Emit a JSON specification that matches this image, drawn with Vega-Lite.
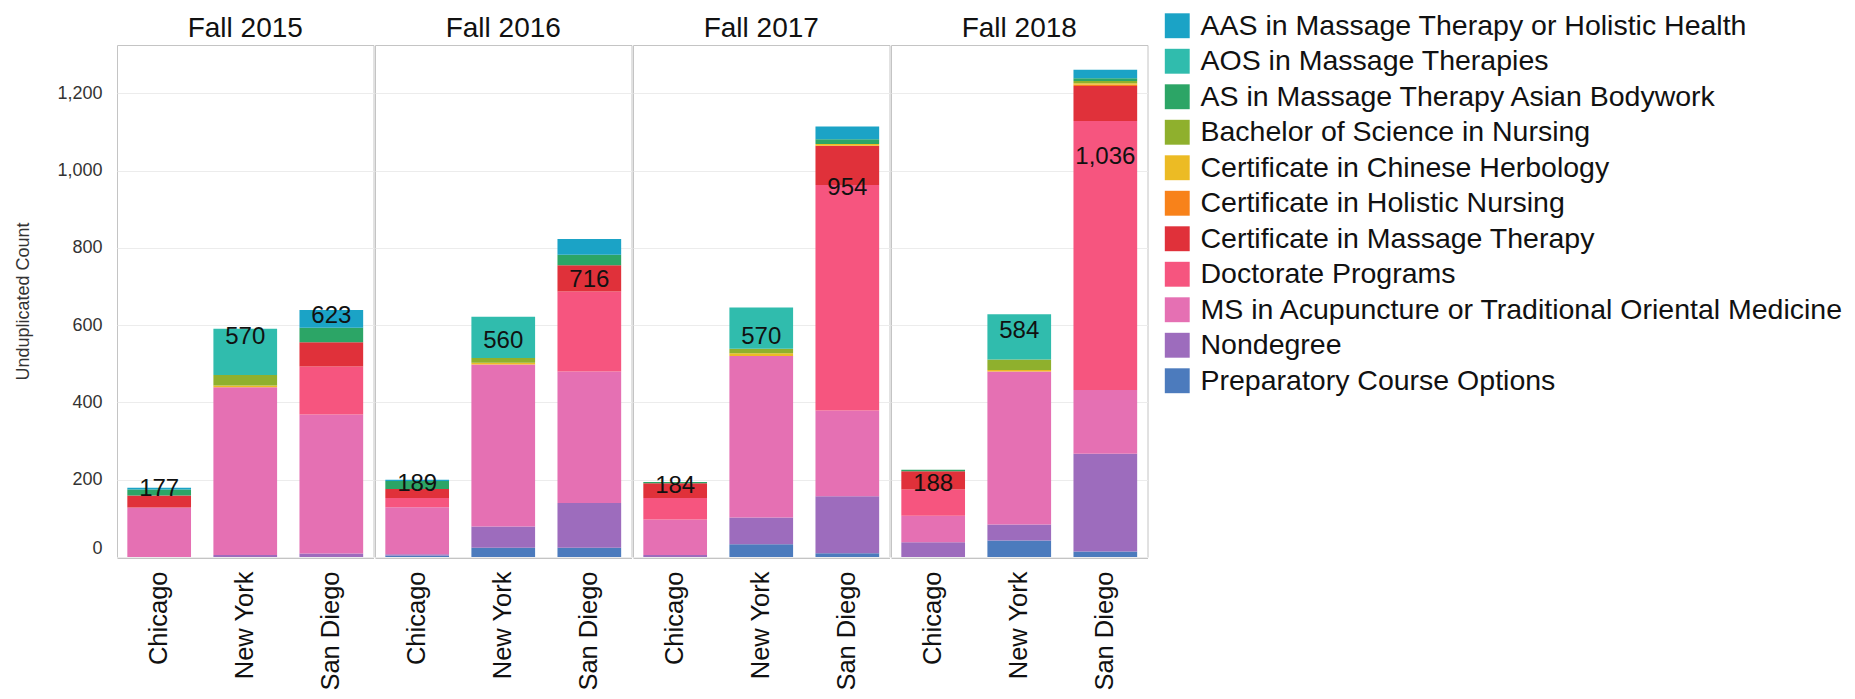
{
  "$schema": "https://vega.github.io/schema/vega-lite/v6.json",
  "padding": {"left": 14, "top": 11, "right": 5, "bottom": 4},
  "background": "white",
  "config": {
    "font": "Liberation Sans",
    "view": {"stroke": "#c4c4c4", "strokeWidth": 1},
    "legend": {
      "title": null,
      "orient": "none",
      "legendX": 1046,
      "legendY": -33.5,
      "labelFontSize": 28.5,
      "labelLimit": 900,
      "labelColor": "#111",
      "labelOffset": 9,
      "symbolType": "square",
      "symbolSize": 620,
      "symbolStrokeWidth": 0,
      "symbolOpacity": 1,
      "rowPadding": 6.5
    }
  },
  "data": {"values": [
    {"year": "Fall 2015", "campus": "Chicago", "program": "MS in Acupuncture or Traditional Oriental Medicine", "count": 128},
    {"year": "Fall 2015", "campus": "Chicago", "program": "Certificate in Massage Therapy", "count": 31},
    {"year": "Fall 2015", "campus": "Chicago", "program": "AS in Massage Therapy Asian Bodywork", "count": 16},
    {"year": "Fall 2015", "campus": "Chicago", "program": "AAS in Massage Therapy or Holistic Health", "count": 4},
    {"year": "Fall 2015", "campus": "New York", "program": "Nondegree", "count": 5},
    {"year": "Fall 2015", "campus": "New York", "program": "MS in Acupuncture or Traditional Oriental Medicine", "count": 434},
    {"year": "Fall 2015", "campus": "New York", "program": "Certificate in Chinese Herbology", "count": 5},
    {"year": "Fall 2015", "campus": "New York", "program": "Bachelor of Science in Nursing", "count": 27},
    {"year": "Fall 2015", "campus": "New York", "program": "AOS in Massage Therapies", "count": 120},
    {"year": "Fall 2015", "campus": "San Diego", "program": "Nondegree", "count": 9},
    {"year": "Fall 2015", "campus": "San Diego", "program": "MS in Acupuncture or Traditional Oriental Medicine", "count": 360},
    {"year": "Fall 2015", "campus": "San Diego", "program": "Doctorate Programs", "count": 124},
    {"year": "Fall 2015", "campus": "San Diego", "program": "Certificate in Massage Therapy", "count": 63},
    {"year": "Fall 2015", "campus": "San Diego", "program": "AS in Massage Therapy Asian Bodywork", "count": 37},
    {"year": "Fall 2015", "campus": "San Diego", "program": "AAS in Massage Therapy or Holistic Health", "count": 46},
    {"year": "Fall 2016", "campus": "Chicago", "program": "Preparatory Course Options", "count": 4},
    {"year": "Fall 2016", "campus": "Chicago", "program": "Nondegree", "count": 3},
    {"year": "Fall 2016", "campus": "Chicago", "program": "MS in Acupuncture or Traditional Oriental Medicine", "count": 122},
    {"year": "Fall 2016", "campus": "Chicago", "program": "Doctorate Programs", "count": 24},
    {"year": "Fall 2016", "campus": "Chicago", "program": "Certificate in Massage Therapy", "count": 23},
    {"year": "Fall 2016", "campus": "Chicago", "program": "AS in Massage Therapy Asian Bodywork", "count": 21},
    {"year": "Fall 2016", "campus": "Chicago", "program": "AAS in Massage Therapy or Holistic Health", "count": 3},
    {"year": "Fall 2016", "campus": "New York", "program": "Preparatory Course Options", "count": 24},
    {"year": "Fall 2016", "campus": "New York", "program": "Nondegree", "count": 55},
    {"year": "Fall 2016", "campus": "New York", "program": "MS in Acupuncture or Traditional Oriental Medicine", "count": 419},
    {"year": "Fall 2016", "campus": "New York", "program": "Certificate in Chinese Herbology", "count": 5},
    {"year": "Fall 2016", "campus": "New York", "program": "Bachelor of Science in Nursing", "count": 12},
    {"year": "Fall 2016", "campus": "New York", "program": "AOS in Massage Therapies", "count": 107},
    {"year": "Fall 2016", "campus": "San Diego", "program": "Preparatory Course Options", "count": 24},
    {"year": "Fall 2016", "campus": "San Diego", "program": "Nondegree", "count": 116},
    {"year": "Fall 2016", "campus": "San Diego", "program": "MS in Acupuncture or Traditional Oriental Medicine", "count": 340},
    {"year": "Fall 2016", "campus": "San Diego", "program": "Doctorate Programs", "count": 207},
    {"year": "Fall 2016", "campus": "San Diego", "program": "Certificate in Massage Therapy", "count": 68},
    {"year": "Fall 2016", "campus": "San Diego", "program": "AS in Massage Therapy Asian Bodywork", "count": 27},
    {"year": "Fall 2016", "campus": "San Diego", "program": "AAS in Massage Therapy or Holistic Health", "count": 41},
    {"year": "Fall 2017", "campus": "Chicago", "program": "Nondegree", "count": 5},
    {"year": "Fall 2017", "campus": "Chicago", "program": "MS in Acupuncture or Traditional Oriental Medicine", "count": 92},
    {"year": "Fall 2017", "campus": "Chicago", "program": "Doctorate Programs", "count": 56},
    {"year": "Fall 2017", "campus": "Chicago", "program": "Certificate in Massage Therapy", "count": 38},
    {"year": "Fall 2017", "campus": "Chicago", "program": "AS in Massage Therapy Asian Bodywork", "count": 3},
    {"year": "Fall 2017", "campus": "New York", "program": "Preparatory Course Options", "count": 33},
    {"year": "Fall 2017", "campus": "New York", "program": "Nondegree", "count": 69},
    {"year": "Fall 2017", "campus": "New York", "program": "MS in Acupuncture or Traditional Oriental Medicine", "count": 418},
    {"year": "Fall 2017", "campus": "New York", "program": "Certificate in Chinese Herbology", "count": 7},
    {"year": "Fall 2017", "campus": "New York", "program": "Bachelor of Science in Nursing", "count": 12},
    {"year": "Fall 2017", "campus": "New York", "program": "AOS in Massage Therapies", "count": 107},
    {"year": "Fall 2017", "campus": "San Diego", "program": "Preparatory Course Options", "count": 10},
    {"year": "Fall 2017", "campus": "San Diego", "program": "Nondegree", "count": 147},
    {"year": "Fall 2017", "campus": "San Diego", "program": "MS in Acupuncture or Traditional Oriental Medicine", "count": 222},
    {"year": "Fall 2017", "campus": "San Diego", "program": "Doctorate Programs", "count": 584},
    {"year": "Fall 2017", "campus": "San Diego", "program": "Certificate in Massage Therapy", "count": 101},
    {"year": "Fall 2017", "campus": "San Diego", "program": "Certificate in Chinese Herbology", "count": 5},
    {"year": "Fall 2017", "campus": "San Diego", "program": "AS in Massage Therapy Asian Bodywork", "count": 12},
    {"year": "Fall 2017", "campus": "San Diego", "program": "AAS in Massage Therapy or Holistic Health", "count": 33},
    {"year": "Fall 2018", "campus": "Chicago", "program": "Nondegree", "count": 38},
    {"year": "Fall 2018", "campus": "Chicago", "program": "MS in Acupuncture or Traditional Oriental Medicine", "count": 69},
    {"year": "Fall 2018", "campus": "Chicago", "program": "Doctorate Programs", "count": 68},
    {"year": "Fall 2018", "campus": "Chicago", "program": "Certificate in Massage Therapy", "count": 47},
    {"year": "Fall 2018", "campus": "Chicago", "program": "AS in Massage Therapy Asian Bodywork", "count": 4},
    {"year": "Fall 2018", "campus": "New York", "program": "Preparatory Course Options", "count": 43},
    {"year": "Fall 2018", "campus": "New York", "program": "Nondegree", "count": 41},
    {"year": "Fall 2018", "campus": "New York", "program": "MS in Acupuncture or Traditional Oriental Medicine", "count": 396},
    {"year": "Fall 2018", "campus": "New York", "program": "Certificate in Chinese Herbology", "count": 4},
    {"year": "Fall 2018", "campus": "New York", "program": "Bachelor of Science in Nursing", "count": 27},
    {"year": "Fall 2018", "campus": "New York", "program": "AOS in Massage Therapies", "count": 117},
    {"year": "Fall 2018", "campus": "San Diego", "program": "Preparatory Course Options", "count": 14},
    {"year": "Fall 2018", "campus": "San Diego", "program": "Nondegree", "count": 253},
    {"year": "Fall 2018", "campus": "San Diego", "program": "MS in Acupuncture or Traditional Oriental Medicine", "count": 165},
    {"year": "Fall 2018", "campus": "San Diego", "program": "Doctorate Programs", "count": 696},
    {"year": "Fall 2018", "campus": "San Diego", "program": "Certificate in Massage Therapy", "count": 91},
    {"year": "Fall 2018", "campus": "San Diego", "program": "Certificate in Holistic Nursing", "count": 4},
    {"year": "Fall 2018", "campus": "San Diego", "program": "Certificate in Chinese Herbology", "count": 3},
    {"year": "Fall 2018", "campus": "San Diego", "program": "Bachelor of Science in Nursing", "count": 6},
    {"year": "Fall 2018", "campus": "San Diego", "program": "AS in Massage Therapy Asian Bodywork", "count": 7},
    {"year": "Fall 2018", "campus": "San Diego", "program": "AAS in Massage Therapy or Holistic Health", "count": 22},
    {"year": "Fall 2015", "campus": "Chicago", "label": 177},
    {"year": "Fall 2015", "campus": "New York", "label": 570},
    {"year": "Fall 2015", "campus": "San Diego", "label": 623},
    {"year": "Fall 2016", "campus": "Chicago", "label": 189},
    {"year": "Fall 2016", "campus": "New York", "label": 560},
    {"year": "Fall 2016", "campus": "San Diego", "label": 716},
    {"year": "Fall 2017", "campus": "Chicago", "label": 184},
    {"year": "Fall 2017", "campus": "New York", "label": 570},
    {"year": "Fall 2017", "campus": "San Diego", "label": 954},
    {"year": "Fall 2018", "campus": "Chicago", "label": 188},
    {"year": "Fall 2018", "campus": "New York", "label": 584},
    {"year": "Fall 2018", "campus": "San Diego", "label": 1036}
  ]},
  "facet": {
    "column": {
      "field": "year",
      "type": "ordinal",
      "header": {"title": null, "labelFontSize": 28, "labelColor": "#111", "labelPadding": 1}
    }
  },
  "spacing": 0,
  "spec": {
    "width": 256.5,
    "height": 512,
    "encoding": {
      "x": {
        "field": "campus",
        "type": "nominal",
        "scale": {"paddingInner": 0.26, "paddingOuter": 0.12},
        "axis": {
          "title": null,
          "labelAngle": -90,
          "labelFontSize": 25.5,
          "labelColor": "#111",
          "labelPadding": 13,
          "ticks": false,
          "domainColor": "#c4c4c4"
        }
      }
    },
    "layer": [
      {
        "transform": [{"filter": "datum.program != null"}],
        "mark": {"type": "bar"},
        "encoding": {
          "y": {
            "field": "count",
            "type": "quantitative",
            "aggregate": "sum",
            "stack": "zero",
            "scale": {"domain": [0, 1325], "nice": false},
            "axis": {
              "title": "Unduplicated Count",
              "titleFontSize": 18,
              "titleFontWeight": "normal",
              "titleColor": "#333",
              "titlePadding": 24,
              "values": [0, 200, 400, 600, 800, 1000, 1200],
              "format": ",d",
              "labelFontSize": 18,
              "labelColor": "#333",
              "labelPadding": 14,
              "labelFlush": 5,
              "ticks": false,
              "domain": false,
              "gridColor": "#ececec"
            }
          },
          "color": {
            "field": "program",
            "type": "nominal",
            "scale": {
              "domain": [
                "AAS in Massage Therapy or Holistic Health",
                "AOS in Massage Therapies",
                "AS in Massage Therapy Asian Bodywork",
                "Bachelor of Science in Nursing",
                "Certificate in Chinese Herbology",
                "Certificate in Holistic Nursing",
                "Certificate in Massage Therapy",
                "Doctorate Programs",
                "MS in Acupuncture or Traditional Oriental Medicine",
                "Nondegree",
                "Preparatory Course Options"
              ],
              "range": ["#1ba3c6", "#30bcad", "#2ca566", "#8fb02d", "#ecbb24", "#f8821a", "#e0313a", "#f6557f", "#e570b3", "#9d6cbd", "#4c7bbd"]
            }
          },
          "order": {"field": "program", "sort": "descending"}
        }
      },
      {
        "transform": [{"filter": "datum.label != null"}],
        "mark": {"type": "text", "fontSize": 24, "baseline": "middle", "color": "#111"},
        "encoding": {
          "y": {"field": "label", "type": "quantitative"},
          "text": {"field": "label", "type": "quantitative", "format": ","}
        }
      }
    ]
  }
}
